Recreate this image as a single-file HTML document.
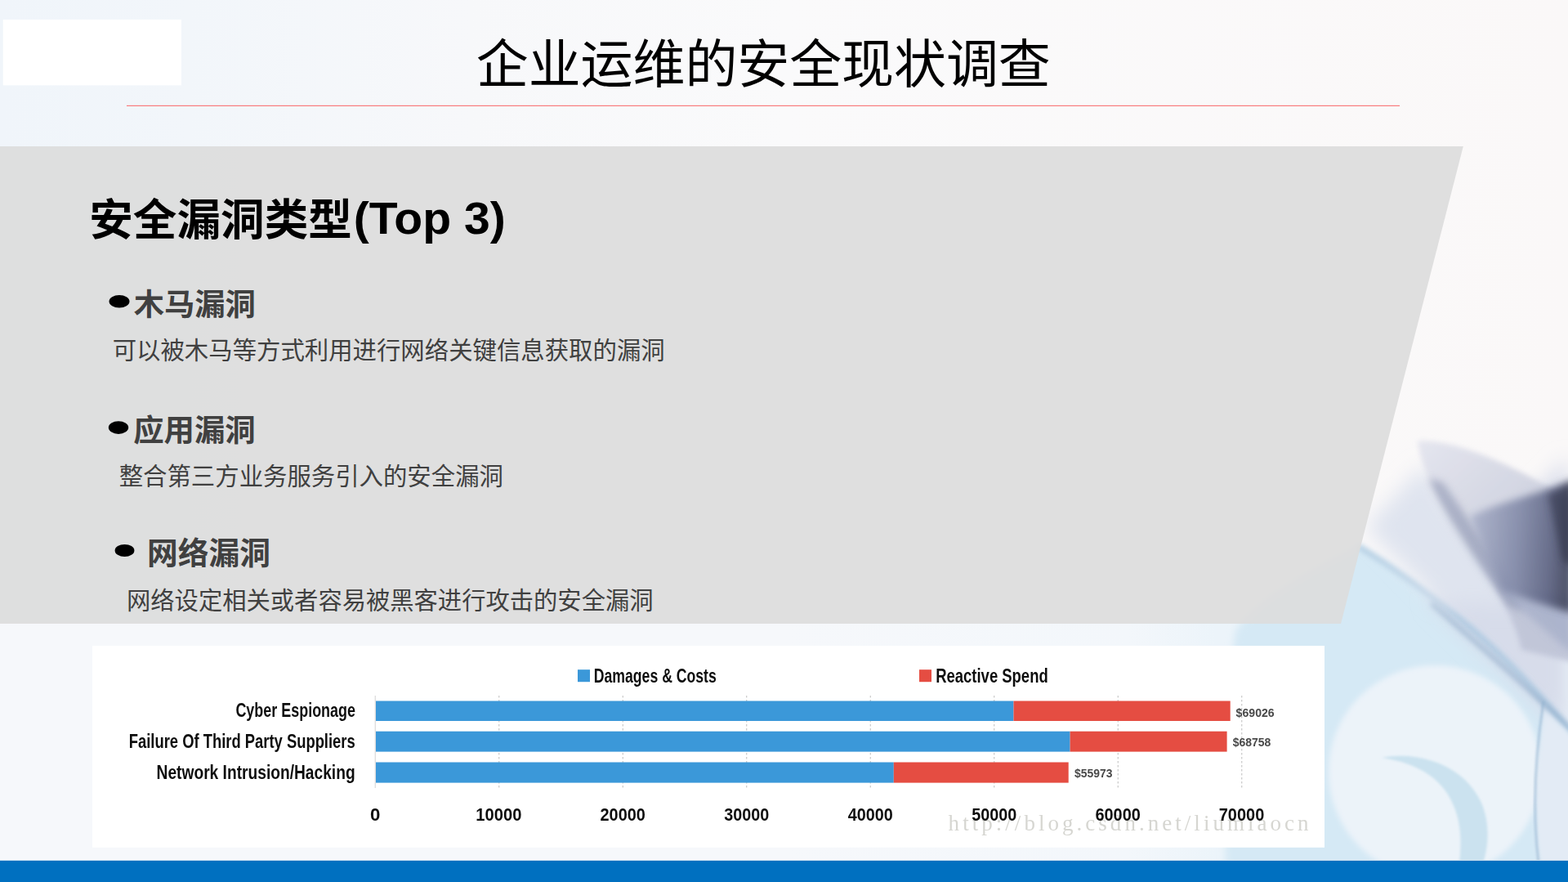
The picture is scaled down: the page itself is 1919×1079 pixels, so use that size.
<!DOCTYPE html>
<html><head><meta charset="utf-8"><title>企业运维的安全现状调查</title>
<style>
html,body{margin:0;padding:0;}
body{width:1919px;height:1079px;overflow:hidden;background:#f8f8f9;font-family:"Liberation Sans",sans-serif;position:relative;}
svg{position:absolute;left:0;top:0;display:block;}
.sr{position:absolute;left:0;top:0;width:1px;height:1px;overflow:hidden;opacity:0;font-size:1px;line-height:1px;}
</style></head><body>
<svg width="1919" height="1079" viewBox="0 0 1919 1079">
<defs>
<filter id="cb" x="0" y="0" width="100%" height="100%" filterUnits="userSpaceOnUse"><feGaussianBlur stdDeviation="0.55"/></filter>
</defs>
<defs>
<linearGradient id="bgTop" x1="0" y1="0" x2="1" y2="0">
<stop offset="0" stop-color="#f0f5fa"/><stop offset="0.12" stop-color="#f2f6fa"/><stop offset="0.3" stop-color="#f7f8fa"/><stop offset="0.5" stop-color="#fafafb"/><stop offset="1" stop-color="#faf8f8"/>
</linearGradient>
<linearGradient id="bgBot" x1="0" y1="0" x2="1" y2="0">
<stop offset="0" stop-color="#f6f8fb"/><stop offset="0.5" stop-color="#f6f8fb"/><stop offset="0.72" stop-color="#f3f7fb"/><stop offset="0.775" stop-color="#ecf4fa"/><stop offset="1" stop-color="#ecf4fa"/>
</linearGradient>
<linearGradient id="petalA" gradientUnits="userSpaceOnUse" x1="1735" y1="540" x2="1900" y2="720"><stop offset="0" stop-color="#e3e4ee"/><stop offset="0.45" stop-color="#d2d5e2"/><stop offset="1" stop-color="#bfc4d7"/></linearGradient>
<linearGradient id="petalB" gradientUnits="userSpaceOnUse" x1="1800" y1="640" x2="1919" y2="650">
<stop offset="0" stop-color="#a9b0c9"/><stop offset="0.5" stop-color="#7d85a4"/><stop offset="0.85" stop-color="#575d7c"/><stop offset="1" stop-color="#40445c"/>
</linearGradient>
<filter id="b2" x="-20%" y="-20%" width="140%" height="140%"><feGaussianBlur stdDeviation="1.6"/></filter>
<filter id="b3" x="-20%" y="-20%" width="140%" height="140%"><feGaussianBlur stdDeviation="3"/></filter>
<filter id="b6" x="-20%" y="-20%" width="140%" height="140%"><feGaussianBlur stdDeviation="5"/></filter>
<filter id="b12" x="-30%" y="-30%" width="160%" height="160%"><feGaussianBlur stdDeviation="12"/></filter>
<filter id="b25" x="-40%" y="-40%" width="180%" height="180%"><feGaussianBlur stdDeviation="22"/></filter>
<clipPath id="clipBR"><rect x="1300" y="179" width="619" height="873"/></clipPath>
</defs>
<rect x="0" y="0" width="1919" height="1079" fill="url(#bgTop)"/>
<rect x="0" y="762" width="1919" height="290" fill="url(#bgBot)"/>
<g clip-path="url(#clipBR)">
<!-- light blue wash bottom right -->
<path d="M1500 1060 C1498 960 1500 850 1512 772 C1535 735 1600 700 1662 668 C1740 715 1840 790 1930 900 L1930 1060Z" fill="#d5e9f5" filter="url(#b6)"/>
<!-- lavender zone right of diagonal -->
<path d="M1750 735 L1919 560 L1919 900Z" fill="#d7dcea" filter="url(#b12)"/>
<!-- diagonal blue band -->
<path d="M1662 668 C1740 715 1840 790 1925 900" stroke="#9cc0dc" stroke-width="7" fill="none" opacity="0.7" filter="url(#b3)"/>
<path d="M1752 738 C1810 790 1870 840 1925 895" stroke="#7f9fc0" stroke-width="5" fill="none" opacity="0.6" filter="url(#b3)"/>
<!-- whitish disc -->
<circle cx="1756" cy="944" r="130" fill="#ecf3f9" filter="url(#b3)"/>
<!-- crescent -->
<path d="M1691 927 C1735 918 1790 935 1812 980 C1824 1005 1822 1035 1815 1056 L1786 1056 C1790 1020 1786 995 1772 972 C1755 945 1725 932 1691 927Z" fill="#cbe2ef" filter="url(#b2)"/>
<!-- right of disc pale -->
<path d="M1890 870 L1925 900 L1925 1056 L1884 1056 C1876 1000 1880 930 1890 870Z" fill="#e3ebf5" filter="url(#b3)"/>
<path d="M1889 858 C1878 930 1876 1000 1883 1056" stroke="#8fb0cf" stroke-width="2.5" fill="none" opacity="0.7" filter="url(#b2)"/>
<!-- lavender haze left of petals -->
<path d="M1672 645 L1742 570 L1860 740 L1762 738Z" fill="#dfe4ef" filter="url(#b12)"/>
<!-- petal A light -->
<path d="M1735 539 C1790 538 1860 575 1925 612 L1925 810 L1862 795 C1852 745 1802 672 1771 625 C1750 595 1738 565 1735 539Z" fill="url(#petalA)" opacity="0.9" filter="url(#b3)"/>
<!-- blade on petal A -->
<path d="M1748 585 C1770 635 1808 690 1846 742 L1866 748 C1836 690 1800 640 1766 590Z" fill="#7f88a7" opacity="0.5" filter="url(#b6)"/>
<!-- petal B -->
<path d="M1838 722 C1860 745 1895 775 1925 800 L1925 730 C1895 725 1865 722 1838 722Z" fill="#a4adc8" opacity="0.7" filter="url(#b6)"/>
<path d="M1799 632 C1835 613 1880 607 1925 586 L1925 750 C1895 742 1860 730 1838 722 C1825 690 1810 660 1799 632Z" fill="url(#petalB)" opacity="0.85" filter="url(#b6)"/>
<path d="M1895 605 L1935 588 L1935 700 L1912 685Z" fill="#2c2e42" opacity="0.55" filter="url(#b6)"/>
</g>

<rect x="3.7" y="23.9" width="218.2" height="80.5" fill="#fff"/>
<rect x="155" y="128.8" width="1558" height="1.2" fill="#f97c7e"/>
<polygon points="0,179 1790.8,179 1641,763 0,763" fill="#dddddd" fill-opacity="0.93"/>
<g filter="url(#cb)">
<rect x="113" y="790" width="1508" height="246.8" fill="#fff"/>
<rect x="458.65" y="851" width="1.2" height="113" fill="#d9d9d9"/>
<line x1="610.75" y1="851" x2="610.75" y2="964" stroke="#c2c2c2" stroke-width="1.1" stroke-dasharray="2.6 2.4"/>
<line x1="762.25" y1="851" x2="762.25" y2="964" stroke="#c2c2c2" stroke-width="1.1" stroke-dasharray="2.6 2.4"/>
<line x1="913.75" y1="851" x2="913.75" y2="964" stroke="#c2c2c2" stroke-width="1.1" stroke-dasharray="2.6 2.4"/>
<line x1="1065.25" y1="851" x2="1065.25" y2="964" stroke="#c2c2c2" stroke-width="1.1" stroke-dasharray="2.6 2.4"/>
<line x1="1216.75" y1="851" x2="1216.75" y2="964" stroke="#c2c2c2" stroke-width="1.1" stroke-dasharray="2.6 2.4"/>
<line x1="1368.25" y1="851" x2="1368.25" y2="964" stroke="#c2c2c2" stroke-width="1.1" stroke-dasharray="2.6 2.4"/>
<line x1="1519.75" y1="851" x2="1519.75" y2="964" stroke="#c2c2c2" stroke-width="1.1" stroke-dasharray="2.6 2.4"/>
<rect x="460" y="857.50" width="780.50" height="24.50" fill="#3b98d9"/>
<rect x="1240.50" y="857.50" width="265.20" height="24.50" fill="#e54d42"/>
<rect x="460" y="894.70" width="849.60" height="24.90" fill="#3b98d9"/>
<rect x="1309.60" y="894.70" width="192.00" height="24.90" fill="#e54d42"/>
<rect x="460" y="932.50" width="633.80" height="25.10" fill="#3b98d9"/>
<rect x="1093.80" y="932.50" width="213.90" height="25.10" fill="#e54d42"/>
<rect x="707" y="819.2" width="15" height="15" fill="#3b98d9"/>
<rect x="1125" y="819.2" width="15" height="15" fill="#e54d42"/>
<text x="1160.6" y="1016" font-family="'Liberation Serif',serif" font-size="27" fill="#cfcfca" opacity="0.85" textLength="441">http://blog.csdn.net/liumiaocn</text>
<text x="288.4" y="877.05" font-family="'Liberation Sans',sans-serif" font-size="23" font-weight="bold" fill="#111" textLength="146.6" lengthAdjust="spacingAndGlyphs">Cyber Espionage</text>
<text x="157.8" y="915.3" font-family="'Liberation Sans',sans-serif" font-size="23" font-weight="bold" fill="#111" textLength="276.9" lengthAdjust="spacingAndGlyphs">Failure Of Third Party Suppliers</text>
<text x="191.6" y="953.3" font-family="'Liberation Sans',sans-serif" font-size="23" font-weight="bold" fill="#111" textLength="243" lengthAdjust="spacingAndGlyphs">Network Intrusion/Hacking</text>
<text x="726.8" y="834.5" font-family="'Liberation Sans',sans-serif" font-size="24" font-weight="bold" fill="#111" textLength="150" lengthAdjust="spacingAndGlyphs">Damages &amp; Costs</text>
<text x="1145.2" y="834.5" font-family="'Liberation Sans',sans-serif" font-size="24" font-weight="bold" fill="#111" textLength="137.5" lengthAdjust="spacingAndGlyphs">Reactive Spend</text>
<text x="453" y="1004.2" font-family="'Liberation Sans',sans-serif" font-size="22" font-weight="bold" fill="#111" textLength="12.4" lengthAdjust="spacingAndGlyphs">0</text>
<text x="582.3" y="1004.2" font-family="'Liberation Sans',sans-serif" font-size="22" font-weight="bold" fill="#111" textLength="56.1" lengthAdjust="spacingAndGlyphs">10000</text>
<text x="734.5" y="1004.2" font-family="'Liberation Sans',sans-serif" font-size="22" font-weight="bold" fill="#111" textLength="55.4" lengthAdjust="spacingAndGlyphs">20000</text>
<text x="886.2" y="1004.2" font-family="'Liberation Sans',sans-serif" font-size="22" font-weight="bold" fill="#111" textLength="55.1" lengthAdjust="spacingAndGlyphs">30000</text>
<text x="1037.7" y="1004.2" font-family="'Liberation Sans',sans-serif" font-size="22" font-weight="bold" fill="#111" textLength="55.1" lengthAdjust="spacingAndGlyphs">40000</text>
<text x="1189.2" y="1004.2" font-family="'Liberation Sans',sans-serif" font-size="22" font-weight="bold" fill="#111" textLength="55.1" lengthAdjust="spacingAndGlyphs">50000</text>
<text x="1340.4" y="1004.2" font-family="'Liberation Sans',sans-serif" font-size="22" font-weight="bold" fill="#111" textLength="55.5" lengthAdjust="spacingAndGlyphs">60000</text>
<text x="1491.7" y="1004.2" font-family="'Liberation Sans',sans-serif" font-size="22" font-weight="bold" fill="#111" textLength="55.6" lengthAdjust="spacingAndGlyphs">70000</text>
<text x="1512.6" y="876.6" font-family="'Liberation Sans',sans-serif" font-size="15" font-weight="bold" fill="#484848" textLength="47.1" lengthAdjust="spacingAndGlyphs">$69026</text>
<text x="1508.7" y="913.2" font-family="'Liberation Sans',sans-serif" font-size="15" font-weight="bold" fill="#484848" textLength="46.7" lengthAdjust="spacingAndGlyphs">$68758</text>
<text x="1315.1" y="951.3" font-family="'Liberation Sans',sans-serif" font-size="15" font-weight="bold" fill="#484848" textLength="46.4" lengthAdjust="spacingAndGlyphs">$55973</text>
</g>
<ellipse cx="146" cy="368.8" rx="12.5" ry="7.8" fill="#000"/><ellipse cx="145" cy="523.1" rx="12.2" ry="7.8" fill="#000"/><ellipse cx="152.5" cy="673.4" rx="11.9" ry="7.5" fill="#000"/>
<text x="582.8" y="101.1" font-family="'Liberation Sans','Noto Sans CJK SC',sans-serif" font-size="64" fill="#000" textLength="703">企业运维的安全现状调查</text>
<text x="109.2" y="287.5" font-family="'Liberation Sans','Noto Sans CJK SC',sans-serif" font-size="53.6" font-weight="bold" fill="#000" textLength="321.7">安全漏洞类型</text>
<text x="432.7" y="285.8" font-family="'Liberation Sans','Noto Sans CJK SC',sans-serif" font-size="55.7" font-weight="bold" fill="#000" textLength="186" lengthAdjust="spacingAndGlyphs">(Top 3)</text>
<text x="163.7" y="385.7" font-family="'Liberation Sans','Noto Sans CJK SC',sans-serif" font-size="37.3" font-weight="bold" fill="#404040">木马漏洞</text>
<text x="163.2" y="539.7" font-family="'Liberation Sans','Noto Sans CJK SC',sans-serif" font-size="37.4" font-weight="bold" fill="#404040">应用漏洞</text>
<text x="180.1" y="690" font-family="'Liberation Sans','Noto Sans CJK SC',sans-serif" font-size="37.7" font-weight="bold" fill="#404040">网络漏洞</text>
<text x="137.7" y="439.4" font-family="'Liberation Sans','Noto Sans CJK SC',sans-serif" font-size="29.4" fill="#404040">可以被木马等方式利用进行网络关键信息获取的漏洞</text>
<text x="145.7" y="593.4" font-family="'Liberation Sans','Noto Sans CJK SC',sans-serif" font-size="29.4" fill="#404040">整合第三方业务服务引入的安全漏洞</text>
<text x="155" y="744.5" font-family="'Liberation Sans','Noto Sans CJK SC',sans-serif" font-size="29.3" fill="#404040">网络设定相关或者容易被黑客进行攻击的安全漏洞</text>
<rect x="0" y="1052.8" width="1919" height="27" fill="#0070c0"/>
</svg>
<div class="sr">
<h1>企业运维的安全现状调查</h1>
<h2>安全漏洞类型(Top 3)</h2>
<ul>
<li><b>木马漏洞</b><p>可以被木马等方式利用进行网络关键信息获取的漏洞</p></li>
<li><b>应用漏洞</b><p>整合第三方业务服务引入的安全漏洞</p></li>
<li><b>网络漏洞</b><p>网络设定相关或者容易被黑客进行攻击的安全漏洞</p></li>
</ul>
<p>Damages &amp; Costs / Reactive Spend</p>
<p>Cyber Espionage $69026; Failure Of Third Party Suppliers $68758; Network Intrusion/Hacking $55973</p>
<p>0 10000 20000 30000 40000 50000 60000 70000</p>
<p>blog.csdn.net/liumiaocn</p>
</div>
</body></html>
